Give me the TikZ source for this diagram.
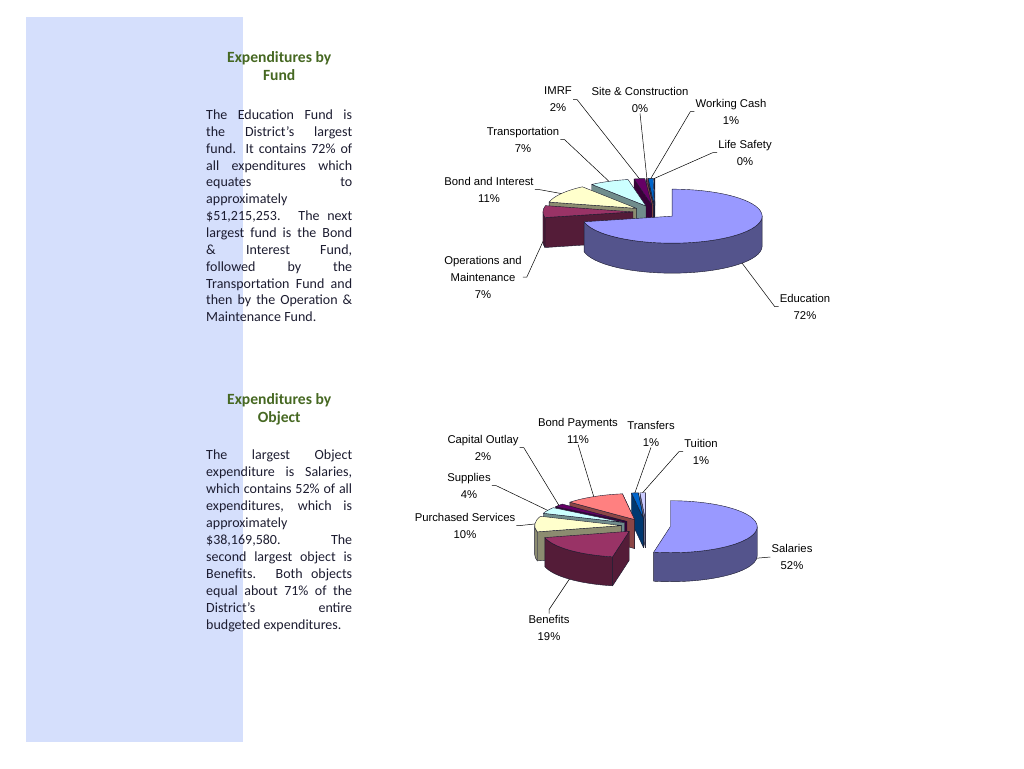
\documentclass[tikz,border=0pt]{standalone}
\usepackage{fontspec}
\setmainfont{Carlito}
\newfontfamily\chartfont{Liberation Sans}
\usetikzlibrary{calc}
\definecolor{panelblue}{RGB}{213,223,252}
\definecolor{headgreen}{RGB}{70,104,34}
\definecolor{bodyink}{RGB}{28,28,48}
\definecolor{pieline}{RGB}{25,25,45}
\definecolor{pielilac}{RGB}{153,153,255}
\definecolor{pieplum}{RGB}{153,51,102}
\definecolor{piecream}{RGB}{255,255,204}
\definecolor{pieice}{RGB}{204,255,255}
\definecolor{piegrape}{RGB}{102,0,102}
\definecolor{piesalmon}{RGB}{255,128,128}
\definecolor{pieocean}{RGB}{0,102,204}
\definecolor{piemist}{RGB}{204,204,255}
\tikzset{
    pie-face/.style = {draw=pieline, line width=0.4pt, line join=round},
    pie-label/.style = {font=\chartfont\fontsize{11.3}{17}\selectfont, align=center, inner sep=1pt},
    leader-line/.style = {draw=black, line width=0.5pt},
    heading-text/.style = {text=headgreen, inner sep=0pt, anchor=base west},
    body-text/.style = {text=bodyink, inner sep=0pt, anchor=base west},
}
% one justified line of the side text
\newcommand\jline[1]{\makebox[146pt][s]{#1}}
% slice of a 3d pie: start, end, colour, walls, name
\newcommand\pieslice[5]{%
  \pgfmathsetmacro\midA{(#1+#2)/2}%
  \coordinate (#5) at ($(pc)+({\pieEx*\pieRx*cos(\midA)},{\pieEx*\pieRy*sin(\midA)})$);
  \coordinate (#5-t) at ($(#5)+(\midA:\pieRx pt and \pieRy pt)$);
  \coordinate (#5-b) at ($(#5-t)+(0,-\pieH)$);
  \if\relax\detokenize{#4}\relax\else
    \foreach \w in {#4}{
      \filldraw[pie-face, fill=#3!55!black] (#5) -- ($(#5)+(\w:\pieRx pt and \pieRy pt)$) -- ++(0,-\pieH) -- ($(#5)+(0,-\pieH)$) -- cycle;
    }
  \fi
  \pgfmathsetmacro\loA{max(#1,-180)}%
  \pgfmathsetmacro\hiA{min(#2,0)}%
  \ifdim\loA pt<\hiA pt
    \filldraw[pie-face, fill=#3!55!black] ($(#5)+(\loA:\pieRx pt and \pieRy pt)$)
      arc[start angle=\loA, end angle=\hiA, x radius=\pieRx pt, y radius=\pieRy pt] -- ++(0,-\pieH)
      arc[start angle=\hiA, end angle=\loA, x radius=\pieRx pt, y radius=\pieRy pt] -- cycle;
  \fi
  \filldraw[pie-face, fill=#3] (#5) -- ($(#5)+(#1:\pieRx pt and \pieRy pt)$)
    arc[start angle=#1, end angle=#2, x radius=\pieRx pt, y radius=\pieRy pt] -- cycle;
}

\begin{document}
\begin{tikzpicture}[x=1pt, y=1pt]
\useasboundingbox (0,0) rectangle (1024,-768);
\fill[panelblue] (26,-17) rectangle (243,-742);

% side text
\node[heading-text] (fund-head) at (206,-63) {\parbox[t]{146pt}{\centering\bfseries\fontsize{15.6}{18}\selectfont Expenditures by\\Fund}};
\node[body-text] (fund-body) at (206,-119.5) {\parbox[t]{146pt}{\fontsize{14}{16.85}\selectfont
\jline{The Education Fund is}\\
\jline{the District’s largest}\\
\jline{fund. It contains 72\% of}\\
\jline{all expenditures which}\\
\jline{equates to}\\
\makebox[146pt][l]{approximately}\\
\jline{\$51,215,253. The next}\\
\jline{largest fund is the Bond}\\
\jline{\& Interest Fund,}\\
\jline{followed by the}\\
\jline{Transportation Fund and}\\
\jline{then by the Operation \&}\\
\makebox[146pt][l]{Maintenance Fund.}}};

\node[heading-text] (object-head) at (206,-404) {\parbox[t]{146pt}{\centering\bfseries\fontsize{15.6}{18}\selectfont Expenditures by\\Object}};
\node[body-text] (object-body) at (206,-459.5) {\parbox[t]{146pt}{\fontsize{14}{17}\selectfont
\jline{The largest Object}\\
\jline{expenditure is Salaries,}\\
\jline{which contains 52\% of all}\\
\jline{expenditures, which is}\\
\makebox[146pt][l]{approximately}\\
\jline{\$38,169,580. The}\\
\jline{second largest object is}\\
\jline{Benefits. Both objects}\\
\jline{equal about 71\% of the}\\
\jline{District’s entire}\\
\makebox[146pt][l]{budgeted expenditures.}}};

% pie by fund
\def\pieRx{90}\def\pieRy{27}\def\pieH{30}\def\pieEx{0.245}
\coordinate (pc) at (655,-212);
\pieslice{-270}{-269.5}{piemist}{-269.5}{s-life}
\pieslice{-269.5}{-266.2}{pieocean}{-266.2}{s-cash}
\pieslice{-266.2}{-265.5}{piesalmon}{-265.5}{s-site}
\pieslice{-265.5}{-258.5}{piegrape}{-258.5}{s-imrf}
\pieslice{-258.5}{-233}{pieice}{-233}{s-trans}
\pieslice{-233}{-193.5}{piecream}{-193.5}{s-bond}
\pieslice{-193.5}{-168}{pieplum}{-168}{s-ops}
\pieslice{-168}{90}{pielilac}{}{s-edu}

\node[pie-label] (imrf) at (558,-99.5) {IMRF\\2\%};
\node[pie-label] (site) at (640,-99.5) {Site \& Construction\\0\%};
\node[pie-label] (cash) at (731,-111.5) {Working Cash\\1\%};
\node[pie-label] (life) at (745,-152.5) {Life Safety\\0\%};
\node[pie-label] (trans) at (523,-139.5) {Transportation\\7\%};
\node[pie-label] (bond) at (489,-189.5) {Bond and Interest\\11\%};
\node[pie-label] (ops) at (483,-277) {Operations and\\Maintenance\\7\%};
\node[pie-label] (edu) at (805,-306.5) {Education\\72\%};

\draw[leader-line] (imrf.east) -- ++(4,0) -- (s-imrf-t);
\draw[leader-line] (site.south) -- (s-site-t);
\draw[leader-line] (cash.west) -- ++(-4,0) -- (s-cash-t);
\draw[leader-line] (life.west) -- ++(-4,0) -- (s-life-t);
\draw[leader-line] (trans.east) -- ++(4,0) -- (s-trans-t);
\draw[leader-line] (bond.east) -- ++(4,0) -- (s-bond-t);
\draw[leader-line] (ops.east) -- ++(4,0) -- (s-ops-b);
\draw[leader-line] (edu.west) -- ++(-4,0) -- (s-edu-b);

% pie by object
\def\pieRx{87}\def\pieRy{26}\def\pieH{29}\def\pieEx{0.28}
\coordinate (pc) at (646,-526);
\pieslice{-270}{-266.5}{piemist}{-270,-266.5}{s-tuition}
\pieslice{-266.5}{-262}{pieocean}{-266.5,-262}{s-transfers}
\pieslice{-262}{-222}{piesalmon}{-262,-222}{s-bondpay}
\pieslice{-222}{-215}{piegrape}{-215}{s-capital}
\pieslice{-215}{-201}{pieice}{-201}{s-supplies}
\pieslice{-201}{-166}{piecream}{-166}{s-purchased}
\pieslice{-166}{-101}{pieplum}{-101}{s-benefits}
\pieslice{-101}{90}{pielilac}{}{s-salaries}

\node[pie-label] (bondpay) at (578,-430.5) {Bond Payments\\11\%};
\node[pie-label] (transfers) at (651,-433.5) {Transfers\\1\%};
\node[pie-label] (tuition) at (701,-451.5) {Tuition\\1\%};
\node[pie-label] (capital) at (483,-447.5) {Capital Outlay\\2\%};
\node[pie-label] (supplies) at (469,-485.5) {Supplies\\4\%};
\node[pie-label] (purchased) at (465,-525.5) {Purchased Services\\10\%};
\node[pie-label] (benefits) at (549,-627.5) {Benefits\\19\%};
\node[pie-label] (salaries) at (792,-557) {Salaries\\52\%};

\draw[leader-line] (bondpay.south) -- (s-bondpay-t);
\draw[leader-line] (transfers.south) -- (s-transfers-t);
\draw[leader-line] (tuition.west) -- ++(-4,0) -- (s-tuition-t);
\draw[leader-line] (capital.east) -- ++(4,0) -- (s-capital-t);
\draw[leader-line] (supplies.east) -- ++(4,0) -- (s-supplies-t);
\draw[leader-line] (purchased.east) -- ++(4,0) -- (s-purchased-t);
\draw[leader-line] (benefits.north) -- ++(0,4) -- (s-benefits-b);
\draw[leader-line] (salaries.west) -- (s-salaries-b);
\end{tikzpicture}
\end{document}
